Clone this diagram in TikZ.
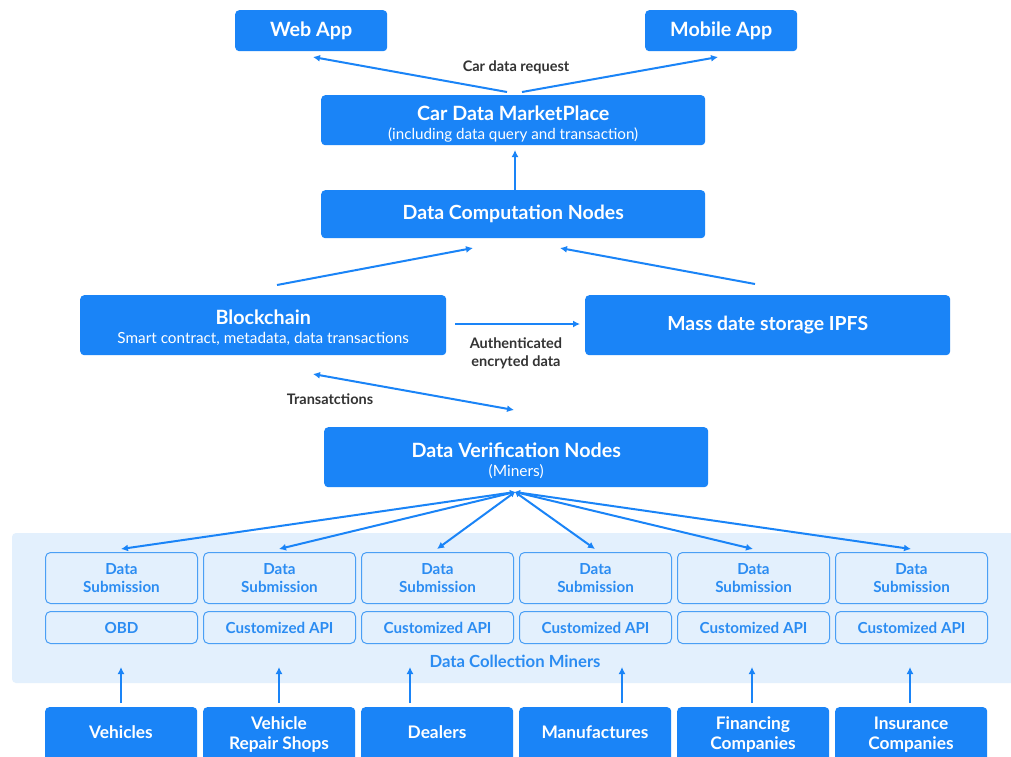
\documentclass[tikz,border=0pt]{standalone}
\usepackage{fontspec}
\setmainfont{Lato}
\usetikzlibrary{arrows.meta}
\definecolor{mblue}{HTML}{1A84F7}
\definecolor{lbg}{HTML}{E3F0FD}
\definecolor{lborder}{HTML}{4A9FF5}
\definecolor{ltext}{HTML}{2B8CF2}
\definecolor{dtext}{HTML}{333333}
\tikzset{
  x=1pt,y=-1pt,
  solid box/.style={fill=mblue,draw=none,rounded corners=4pt,text=white,align=center,inner sep=0pt,anchor=north west},
  light box/.style={fill=lbg,draw=lborder,line width=1pt,rounded corners=5pt,text=ltext,align=center,inner sep=0pt,anchor=north west,font=\fontsize{15.2}{18}\selectfont\bfseries},
  conn/.style={draw=mblue,line width=2pt,-{Latex[length=7pt,width=7pt]}},
  lbl/.style={text=dtext,font=\fontsize{14.5}{18}\selectfont\bfseries,align=center}
}
\newcommand{\tstrut}{\rule{0pt}{22pt}}
\begin{document}
\begin{tikzpicture}
\useasboundingbox (0,0) rectangle (1011,756);
\fill[white] (0,0) rectangle (1011,756);
% background panel
\fill[lbg,rounded corners=4pt] (12,533) rectangle (1020,683);
\node[text=ltext,font=\fontsize{16.7}{18}\selectfont\bfseries] (dcm) at (515,661) {Data Collection Miners};

% top
\node[solid box,minimum width=152pt,minimum height=41pt,font=\fontsize{19.7}{20}\selectfont\bfseries] (web) at (235,10) {Web App};
\node[solid box,minimum width=152pt,minimum height=41pt,font=\fontsize{19.7}{20}\selectfont\bfseries] (mob) at (645,10) {Mobile App};
\node[solid box,minimum width=384pt,minimum height=50pt,font=\fontsize{15.2}{19}\selectfont] (mkt) at (321,95) {{\fontsize{19.7}{19}\selectfont\bfseries\tstrut Car Data MarketPlace}\\{(including data query and transaction)}};
\node[solid box,minimum width=384pt,minimum height=48pt,font=\fontsize{19.5}{20}\selectfont\bfseries] (comp) at (321,190) {Data Computation Nodes};
\node[solid box,minimum width=366pt,minimum height=60pt,font=\fontsize{15.3}{19}\selectfont] (bc) at (80,295) {{\fontsize{19.7}{19}\selectfont\bfseries\rule{0pt}{19pt}Blockchain}\\{Smart contract, metadata, data transactions}};
\node[solid box,minimum width=365pt,minimum height=60pt,font=\fontsize{19.4}{21}\selectfont\bfseries] (ipfs) at (585,295) {Mass date storage IPFS};
\node[solid box,minimum width=384pt,minimum height=60pt,font=\fontsize{15.5}{19}\selectfont] (ver) at (324,427) {{\fontsize{19.7}{19}\selectfont\bfseries\tstrut Data Verification Nodes}\\{(Miners)}};

% coordinates for free ends
\coordinate (mktL) at (507,92);
\coordinate (mktR) at (522,92);
\coordinate (webE) at (313,57);
\coordinate (mobE) at (718,57);
\draw[conn] (mktL) -- (webE);
\draw[conn] (mktR) -- (mobE);
\node[lbl] (cdr) at (516,67) {Car data request};
\draw[conn] (comp.north -| 515,0) -- (515,150);
\coordinate (bcT) at (277,285);
\coordinate (compL) at (473,248);
\coordinate (ipT) at (755,284);
\coordinate (compR) at (560,248);
\draw[conn] (bcT) -- (compL);
\draw[conn] (ipT) -- (compR);
\coordinate (bcR) at (455,324);
\coordinate (ipL) at (580,324);
\draw[conn] (bcR) -- (ipL);
\node[lbl] (auth) at (516,353) {Authenticated\\encryted data};
\coordinate (trA) at (313,374);
\coordinate (trB) at (514,410);
\draw[conn,{Latex[length=7pt,width=7pt]}-{Latex[length=7pt,width=7pt]}] (trA) -- (trB);
\node[lbl] (trl) at (330,399) {Transatctions};
\coordinate (hub) at (515,492);

% columns
\foreach \i/\api/\src/\ax in {1/OBD/Vehicles/121, 2/Customized API/{\rule{0pt}{17pt}Vehicle\\Repair Shops}/279, 3/Customized API/Dealers/410, 4/Customized API/Manufactures/622, 5/Customized API/{\rule{0pt}{17pt}Financing\\Companies}/752, 6/Customized API/{\rule{0pt}{17pt}Insurance\\Companies}/910}{
  \pgfmathsetmacro{\xx}{45+158*(\i-1)}
  \pgfmathsetmacro{\cx}{\xx+76}
  \node[light box,minimum width=152pt,minimum height=51pt] (sub\i) at (\xx,552) {Data\\Submission};
  \node[light box,minimum width=152pt,minimum height=32pt] (api\i) at (\xx,611) {\api};
  \node[solid box,minimum width=152pt,minimum height=60pt] (src\i) at (\xx,707) {};
  \node[text=white,font=\fontsize{17.3}{20}\selectfont\bfseries,align=center] (srct\i) at (\cx,732) {\src};
  \coordinate (up\i) at (\ax,703);
  \coordinate (upE\i) at (\ax,667);
  \draw[conn] (up\i) -- (upE\i);
  \coordinate (subT\i) at (\cx,549);
  \draw[conn,{Latex[length=5pt,width=6pt]}-{Latex[length=7pt,width=7pt]}] (hub) -- (subT\i);
}
\end{tikzpicture}
\end{document}
